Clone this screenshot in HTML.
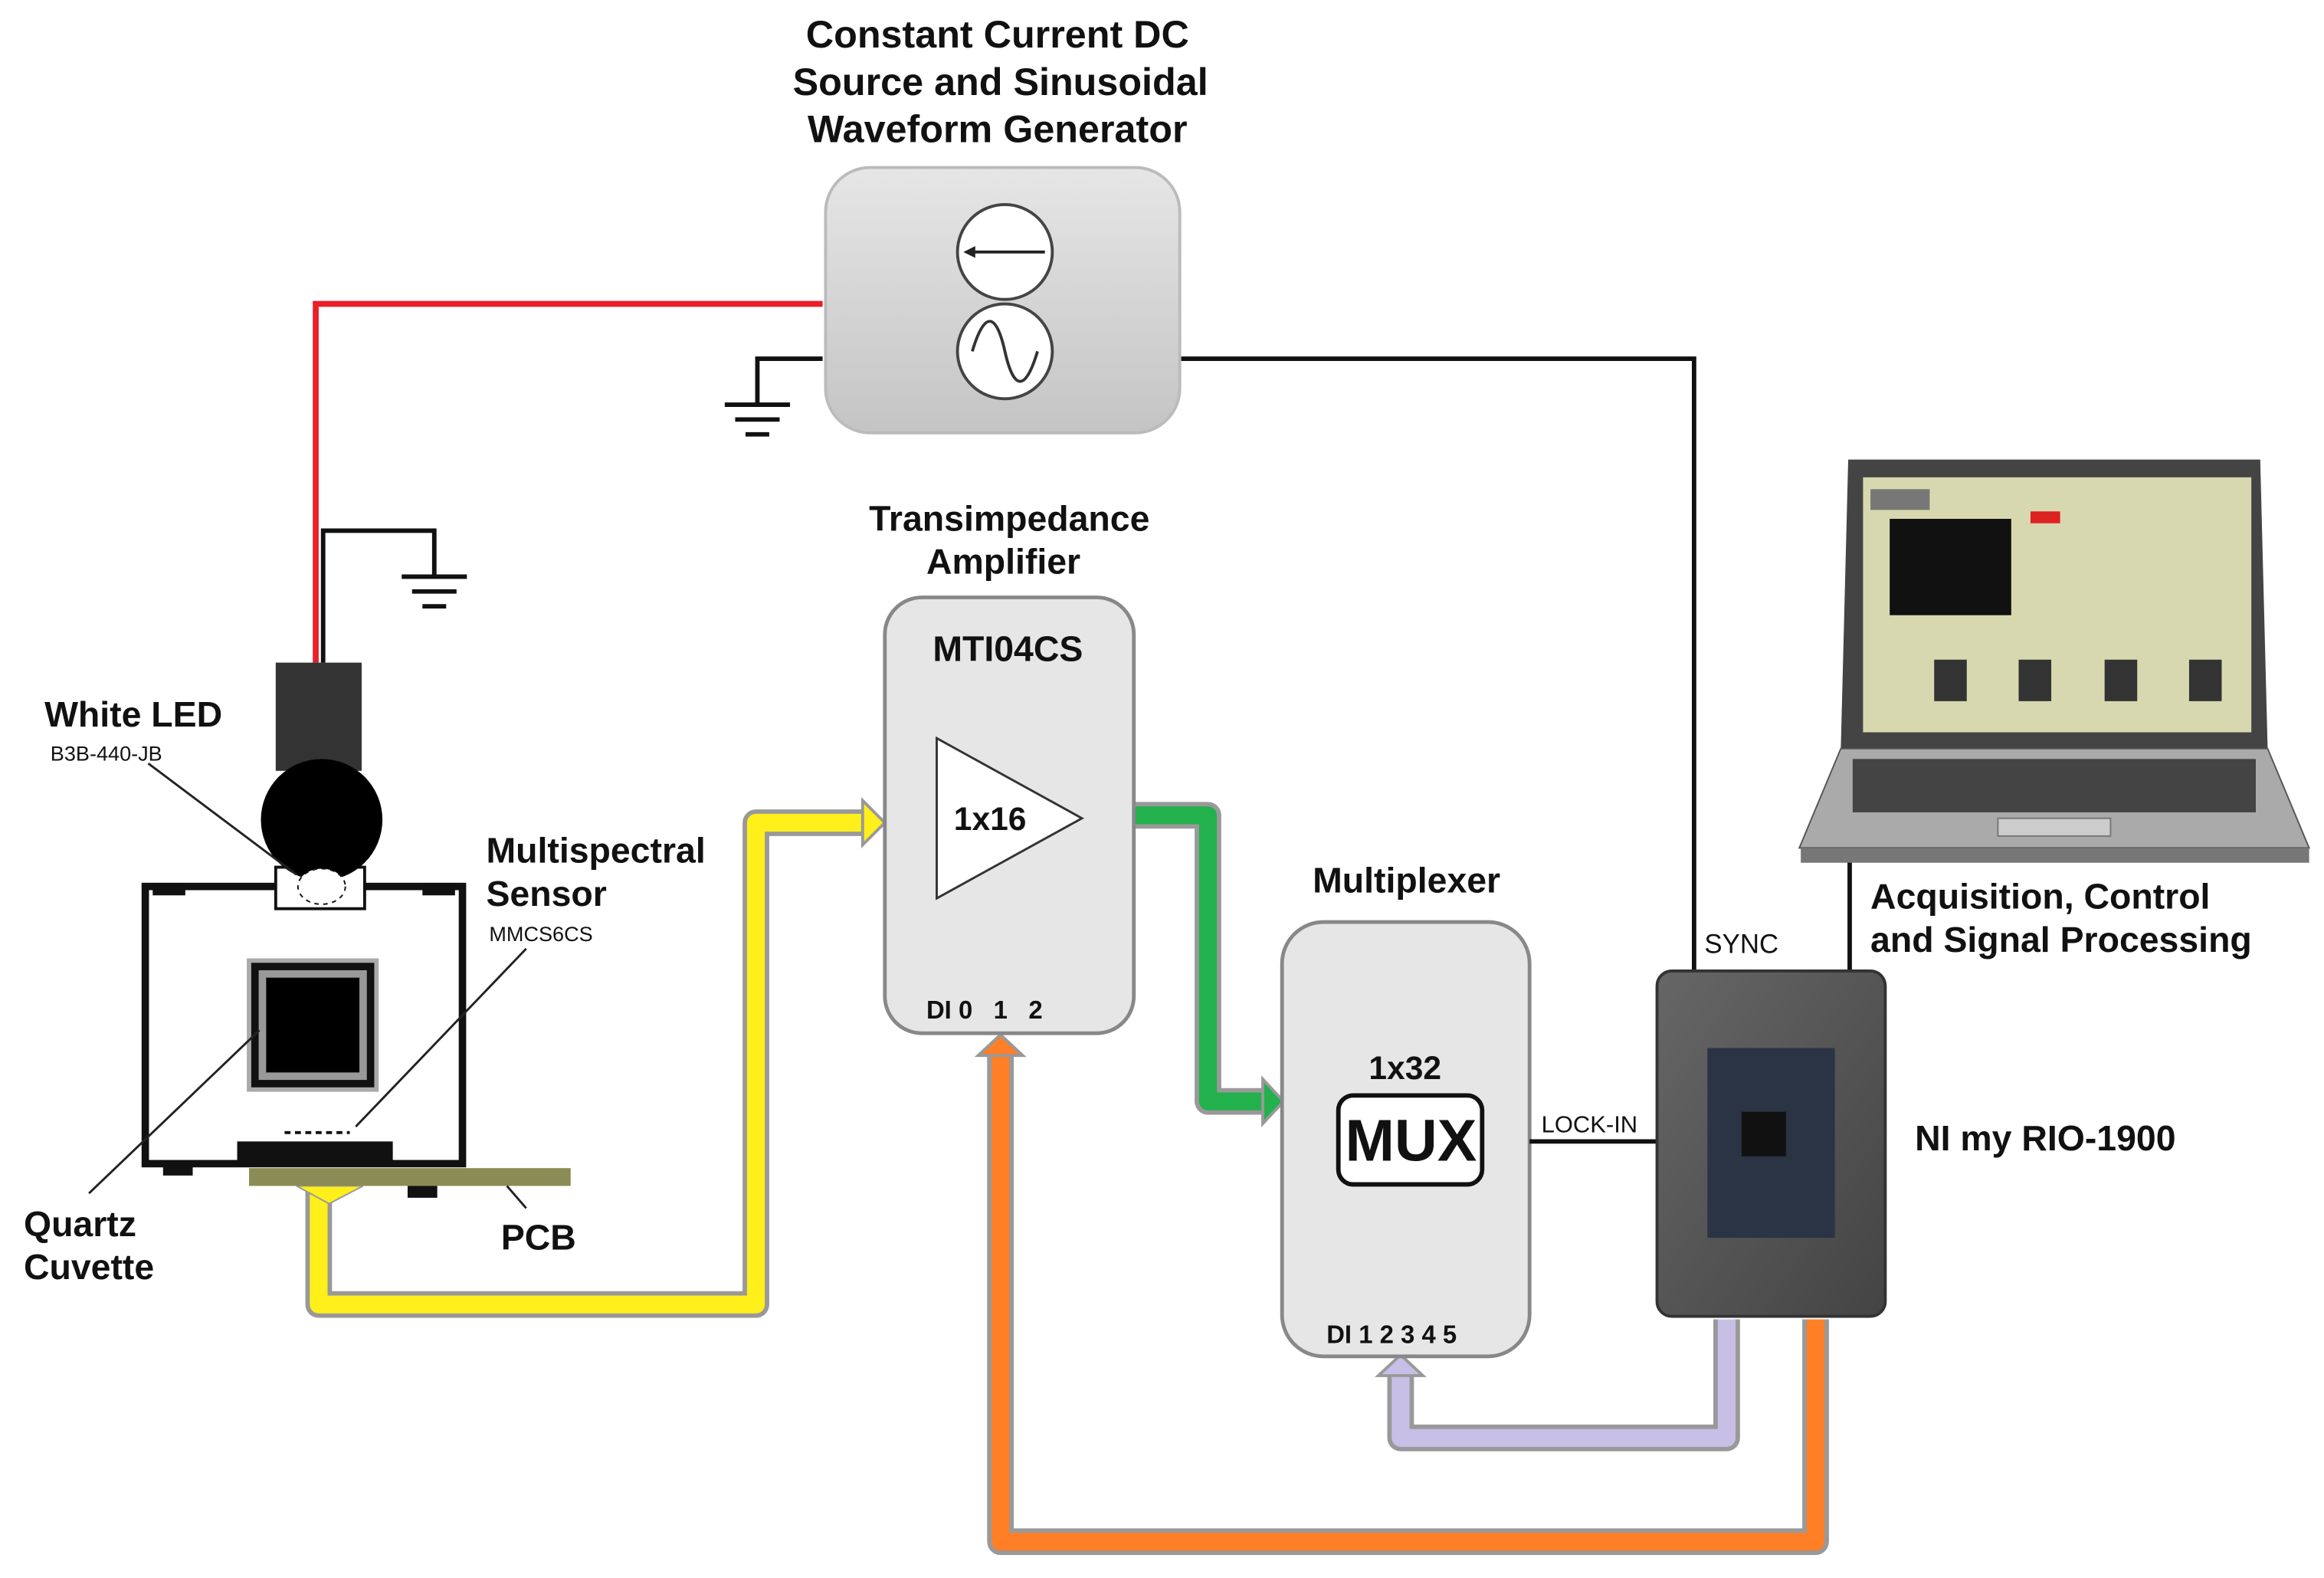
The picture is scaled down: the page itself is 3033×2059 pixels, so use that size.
<!DOCTYPE html>
<html><head><meta charset="utf-8"><style>
html,body{margin:0;padding:0;background:#fff}
svg{display:block}
text{font-family:"Liberation Sans",Arial,sans-serif;fill:#111}
.b{font-weight:bold}
</style></head><body>
<svg width="3033" height="2059" viewBox="0 0 1568 1064.5" xmlns="http://www.w3.org/2000/svg">
<defs>
<linearGradient id="gg" x1="0" y1="0" x2="0" y2="1"><stop offset="0" stop-color="#e6e6e6"/><stop offset="1" stop-color="#c4c4c4"/></linearGradient>
<linearGradient id="ni" x1="0" y1="0" x2="1" y2="1"><stop offset="0" stop-color="#666"/><stop offset="1" stop-color="#444"/></linearGradient>
</defs>
<g class="b">
<text x="673" y="32" font-size="26" text-anchor="middle">Constant Current DC</text>
<text x="675" y="64" font-size="26" text-anchor="middle">Source and Sinusoidal</text>
<text x="673" y="96" font-size="26" text-anchor="middle">Waveform Generator</text>
</g>
<polyline points="555,205 213,205 213,447" fill="none" stroke="#e8202a" stroke-width="4"/>
<polyline points="555,242 511,242 511,272" fill="none" stroke="#111" stroke-width="3"/>
<line x1="489" y1="273" x2="533" y2="273" stroke="#111" stroke-width="3"/>
<line x1="496" y1="283" x2="526" y2="283" stroke="#111" stroke-width="3"/>
<line x1="503" y1="293" x2="519" y2="293" stroke="#111" stroke-width="3"/>
<polyline points="796,242 1143,242 1143,655" fill="none" stroke="#111" stroke-width="3"/>
<polyline points="218,447 218,358 293,358 293,388" fill="none" stroke="#111" stroke-width="3"/>
<line x1="271" y1="389" x2="315" y2="389" stroke="#111" stroke-width="3"/>
<line x1="278" y1="399" x2="308" y2="399" stroke="#111" stroke-width="3"/>
<line x1="285" y1="409" x2="301" y2="409" stroke="#111" stroke-width="3"/>
<rect x="557" y="113" width="239" height="179" rx="30" fill="url(#gg)" stroke="#bbb" stroke-width="2"/>
<circle cx="678" cy="170" r="32" fill="#fff" stroke="#444" stroke-width="2"/>
<line x1="705" y1="170" x2="655" y2="170" stroke="#222" stroke-width="2"/>
<polygon points="650,170 658,166 658,174" fill="#222"/>
<circle cx="678" cy="237" r="32" fill="#fff" stroke="#444" stroke-width="2"/>
<path d="M656,237 C664,210 672,210 678,237 S692,264 700,237" fill="none" stroke="#333" stroke-width="2"/>
<g fill="none" stroke-linejoin="round">
<path d="M215,800 V880 H510 V555 H585" stroke="#999" stroke-width="18"/>
<path d="M215,800 V880 H510 V555 H585" stroke="#ffef1a" stroke-width="12"/>
<path d="M765,550 H815 V743 H855" stroke="#999" stroke-width="18"/>
<path d="M765,550 H815 V743 H855" stroke="#22b14c" stroke-width="12"/>
<path d="M1165,890 V970 H945 V925" stroke="#999" stroke-width="18"/>
<path d="M1165,890 V970 H945 V925" stroke="#c8bfe7" stroke-width="12"/>
<path d="M1225,890 V1040 H675 V710" stroke="#999" stroke-width="18"/>
<path d="M1225,890 V1040 H675 V710" stroke="#ff7f27" stroke-width="12"/>
</g>
<polygon points="582,540 597,555 582,570" fill="#ffef1a" stroke="#999" stroke-width="2"/>
<polygon points="852,728 866,743 852,758" fill="#22b14c" stroke="#999" stroke-width="2"/>
<polygon points="930,928 945,914 960,928" fill="#c8bfe7" stroke="#999" stroke-width="2"/>
<polygon points="660,712 675,698 690,712" fill="#ff7f27" stroke="#999" stroke-width="2"/>
<polygon points="200,800 245,800 222,812" fill="#ffef1a" stroke="#999"/>
<rect x="168" y="788" width="217" height="12" fill="#8b8b55"/>
<rect x="98" y="598" width="214" height="187" fill="#fff" stroke="#111" stroke-width="5"/>
<rect x="103" y="596" width="22" height="8" fill="#111"/><rect x="285" y="596" width="22" height="8" fill="#111"/>
<rect x="110" y="785" width="20" height="8" fill="#111"/><rect x="275" y="800" width="20" height="8" fill="#111"/>
<rect x="160" y="770" width="105" height="15" fill="#111"/>
<rect x="168" y="648" width="86" height="87" fill="#111" stroke="#aaa" stroke-width="3"/>
<rect x="177" y="657" width="68" height="69" fill="none" stroke="#999" stroke-width="5"/>
<rect x="180" y="660" width="62" height="63" fill="#000"/>
<line x1="192" y1="764" x2="236" y2="764" stroke="#111" stroke-width="2" stroke-dasharray="4,3"/>
<rect x="186" y="585" width="60" height="28" fill="#fff" stroke="#111" stroke-width="2"/>
<rect x="186" y="447" width="58" height="73" fill="#333"/>
<circle cx="217" cy="553" r="41" fill="#000"/>
<ellipse cx="217" cy="598" rx="16" ry="12" fill="#fff" stroke="#111" stroke-dasharray="3,3"/>
<line x1="100" y1="515" x2="200" y2="590" stroke="#222" stroke-width="1.5"/>
<line x1="355" y1="640" x2="240" y2="760" stroke="#222" stroke-width="1.5"/>
<line x1="60" y1="805" x2="175" y2="695" stroke="#222" stroke-width="1.5"/>
<line x1="355" y1="815" x2="342" y2="800" stroke="#222" stroke-width="1.5"/>
<g class="b">
<text x="30" y="490" font-size="24">White LED</text>
<text x="328" y="582" font-size="24">Multispectral</text>
<text x="328" y="611" font-size="24">Sensor</text>
<text x="16" y="834" font-size="24">Quartz</text>
<text x="16" y="863" font-size="24">Cuvette</text>
<text x="338" y="843" font-size="24">PCB</text>
</g>
<text x="34" y="513" font-size="14" fill="#333">B3B-440-JB</text>
<text x="330" y="635" font-size="14" fill="#333">MMCS6CS</text>
<g class="b">
<text x="681" y="358" font-size="24" text-anchor="middle">Transimpedance</text>
<text x="677" y="387" font-size="24" text-anchor="middle">Amplifier</text>
</g>
<rect x="597" y="403" width="168" height="294" rx="25" fill="#e6e6e6" stroke="#888" stroke-width="2.5"/>
<text class="b" x="680" y="446" font-size="24" text-anchor="middle">MTI04CS</text>
<polygon points="632,498 632,606 730,552" fill="#fff" stroke="#333" stroke-width="1.5"/>
<text class="b" x="668" y="560" font-size="22" text-anchor="middle">1x16</text>
<text class="b" x="625" y="687" font-size="17" xml:space="preserve">DI 0   1   2</text>
<text class="b" x="949" y="602" font-size="24" text-anchor="middle">Multiplexer</text>
<rect x="865" y="622" width="167" height="293" rx="28" fill="#e6e6e6" stroke="#888" stroke-width="2.5"/>
<text class="b" x="948" y="728" font-size="22" text-anchor="middle">1x32</text>
<rect x="903" y="739" width="97" height="60" rx="10" fill="#fff" stroke="#111" stroke-width="3"/>
<text class="b" x="952" y="783" font-size="40" text-anchor="middle">MUX</text>
<text class="b" x="895" y="906" font-size="17">DI 1 2 3 4 5</text>
<line x1="1032" y1="770" x2="1118" y2="770" stroke="#111" stroke-width="3"/>
<text x="1040" y="764" font-size="16">LOCK-IN</text>
<text x="1150" y="643" font-size="18">SYNC</text>
<line x1="1248" y1="580" x2="1248" y2="655" stroke="#111" stroke-width="3"/>
<rect x="1118" y="655" width="154" height="233" rx="10" fill="url(#ni)" stroke="#333" stroke-width="2"/>
<rect x="1152" y="707" width="86" height="128" fill="#2a3444"/>
<rect x="1175" y="750" width="30" height="30" fill="#111"/>
<text class="b" x="1292" y="776" font-size="24">NI my RIO-1900</text>
<polygon points="1247,310 1525,310 1530,505 1242,505" fill="#444"/>
<rect x="1257" y="322" width="262" height="172" fill="#d8d8b0"/>
<rect x="1262" y="330" width="40" height="14" fill="#777"/>
<rect x="1370" y="345" width="20" height="8" fill="#d22"/>
<rect x="1275" y="350" width="82" height="65" fill="#111"/>
<g fill="#333"><rect x="1305" y="445" width="22" height="28"/><rect x="1362" y="445" width="22" height="28"/><rect x="1420" y="445" width="22" height="28"/><rect x="1477" y="445" width="22" height="28"/></g>
<polygon points="1242,505 1530,505 1558,572 1214,572" fill="#aaa" stroke="#555"/>
<rect x="1250" y="512" width="272" height="36" fill="#444"/>
<rect x="1348" y="552" width="76" height="12" fill="#ccc" stroke="#777"/>
<rect x="1215" y="572" width="343" height="10" fill="#777"/>
<text class="b" x="1262" y="613" font-size="24">Acquisition, Control</text>
<text class="b" x="1262" y="642" font-size="24">and Signal Processing</text>
</svg>
</body></html>
